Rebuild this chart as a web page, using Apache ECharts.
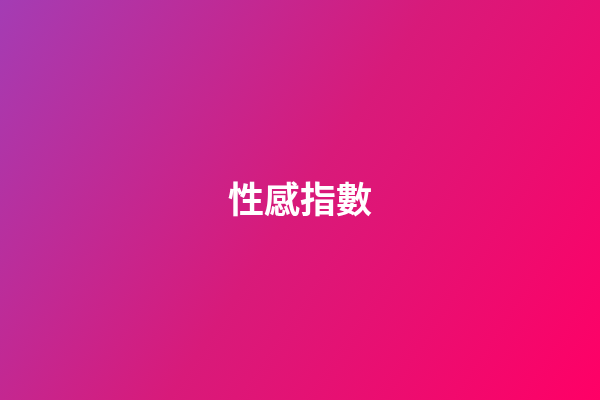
<!DOCTYPE html>
<html>
<head>
<meta charset="utf-8">
<script src="https://cdn.jsdelivr.net/npm/echarts@6/dist/echarts.min.js"></script>
<style>
html, body { margin: 0; padding: 0; }
#main { width: 600px; height: 400px; }
</style>
</head>
<body>
<div id="main"></div>
<script>
// title text and gradient colour stops
const titleText = ['性感指數']
const stopOffsets = [0, 0.5, 1]
const stopColors = ['#a43cb4', '#d81a7a', '#ff0066']

let myChart = echarts.init(document.getElementById('main'))
let option = {
    backgroundColor: {
        type: 'linear',
        x: 0, y: 0, x2: 1, y2: 1,
        colorStops: stopOffsets.map((o, i) => ({offset: o, color: stopColors[i]}))
    },
    title: {
        text: titleText[0],
        left: 'center',
        top: 176,
        textStyle: {
            color: '#ffffff',
            fontSize: 36,
            fontWeight: 'bold',
            fontFamily: 'Noto Sans CJK TC'
        }
    },
    series: []
};
myChart.setOption(option);
</script>
</body>
</html>
